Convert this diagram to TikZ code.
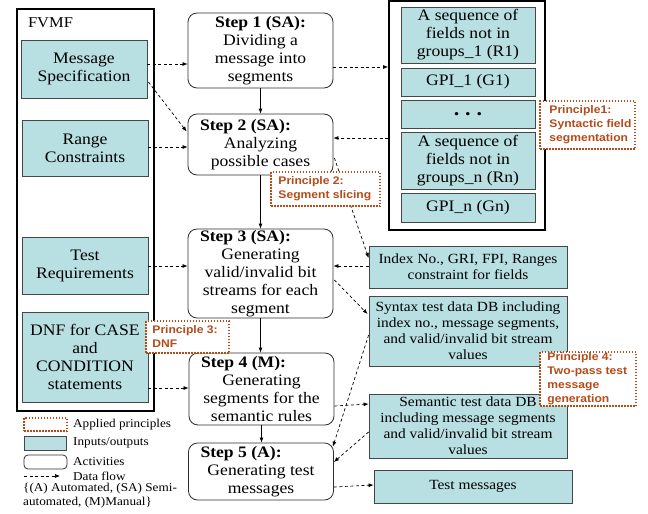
\documentclass[tikz,border=0pt]{standalone}
\usepackage{fontspec}
\setmainfont{Liberation Serif}[FakeStretch=1.1]
\newfontfamily\prinfam{Liberation Sans}[FakeStretch=1.1]
\usetikzlibrary{arrows.meta,calc}

\definecolor{iofill}{RGB}{184,223,225}
\definecolor{ioline}{RGB}{70,70,70}
\definecolor{stepline}{RGB}{45,45,45}
\definecolor{prin}{RGB}{180,75,25}

\newcommand\txtmain{\fontsize{16}{18}\selectfont}
\newcommand\txtsmall{\fontsize{14}{16}\selectfont}
\newcommand\txtleg{\fontsize{12}{13.5}\selectfont}
\newcommand\txtprin{\prinfam\bfseries\fontsize{11}{14}\selectfont}

\begin{document}
\begin{tikzpicture}[x=1pt,y=-1pt,
  io/.style={draw=ioline, fill=iofill, line width=0.8pt, inner sep=0pt, align=center, font=\txtmain},
  iosmall/.style={io, font=\txtsmall},
  stepbox/.style={draw=stepline, rounded corners=9pt, line width=0.8pt, minimum width=145pt,
                  inner xsep=4pt, inner ysep=0pt, align=center, font=\txtmain},
  container/.style={draw=black, line width=1.8pt, inner sep=0pt},
  prinbox/.style={draw=prin, fill=white, line width=1.5pt, dash pattern=on 1.5pt off 1.5pt, inner sep=0pt},
  printext/.style={text=prin, font=\txtprin, align=left, inner sep=0pt, anchor=west},
  dataflow/.style={draw=black, line width=0.7pt, dash pattern=on 3pt off 2.5pt, -{Latex[length=5pt,width=4pt]}},
  stepflow/.style={draw=black, line width=0.8pt, -{Latex[length=5pt,width=4pt]}},
  legtext/.style={font=\txtleg, anchor=west, inner sep=0pt}
]
\useasboundingbox (0,0) rectangle (648,514);

% ---------- FVMF inputs ----------
\node[container, minimum width=137pt, minimum height=402pt] (fvmf) at (85.5,210) {};
\node[font=\fontsize{15}{17}\selectfont, inner sep=0pt] (fvmft) at (50.5,23) {FVMF};
\node[io, minimum width=126pt, minimum height=58pt] (msg) at (84,69) {Message\\Specification};
\node[io, minimum width=126pt, minimum height=56pt] (rng) at (85,148) {Range\\Constraints};
\node[io, minimum width=126pt, minimum height=57pt] (treq) at (85,265.5) {Test\\Requirements};
\node[io, minimum width=126pt, minimum height=90pt] (dnf) at (85,357) {DNF for CASE\\and\\CONDITION\\statements};

% ---------- Steps ----------
\node[stepbox, minimum height=75pt] (s1) at (260.5,50.5)
  {\textbf{Step 1 (SA):}\\Dividing a\\message into\\segments};
\node[stepbox, minimum height=61pt] (s2) at (260.5,144.5)
  {\makebox[137pt][l]{\hspace{8pt}\textbf{Step 2 (SA):}}\\Analyzing\\possible cases};
\node[stepbox, minimum height=89pt] (s3) at (260.5,273.5)
  {\makebox[137pt][l]{\hspace{8pt}\textbf{Step 3 (SA):}}\\Generating\\valid/invalid bit\\streams for each\\segment};
\node[stepbox, minimum height=72pt] (s4) at (261.5,389)
  {\makebox[137pt][l]{\hspace{8pt}\textbf{Step 4 (M):}}\\Generating\\segments for the\\semantic rules};
\node[stepbox, minimum width=144pt, minimum height=57pt] (s5) at (261,471.5)
  {\makebox[137pt][l]{\hspace{8pt}\textbf{Step 5 (A):}}\\Generating test\\messages};

% ---------- Segments of a message ----------
\node[container, minimum width=156pt, minimum height=229pt] (rbox) at (467,115.5) {};
\node[io, minimum width=134pt, minimum height=56pt] (r1) at (468,35)
  {A sequence of\\fields not in\\groups\_1 (R1)};
\node[io, minimum width=134pt, minimum height=28pt] (g1) at (468,82) {GPI\_1 (G1)};
\node[io, minimum width=134pt, minimum height=28pt] (gdots) at (468,114)
  {\fontsize{20}{20}\selectfont\textbf{.\hspace{6pt}.\hspace{6pt}.}};
\node[io, minimum width=134pt, minimum height=57pt] (rn) at (468,160.5)
  {A sequence of\\fields not in\\groups\_n (Rn)};
\node[io, minimum width=134pt, minimum height=29pt] (gn) at (468,207.5) {GPI\_n (Gn)};

% ---------- Outputs ----------
\node[iosmall, minimum width=198pt, minimum height=42pt] (idx) at (468,267)
  {Index No., GRI, FPI, Ranges\\constraint for fields};
\node[iosmall, minimum width=198pt, minimum height=70pt] (syn) at (468,331)
  {Syntax test data DB including\\index no., message segments,\\and valid/invalid bit stream\\values};
\node[iosmall, minimum width=198pt, minimum height=64pt] (sem) at (468,426)
  {Semantic test data DB\\including message segments\\and valid/invalid bit stream\\values};
\node[iosmall, minimum width=198pt, minimum height=33pt] (tm) at (473,486.5) {Test messages};

% ---------- Step sequence ----------
\draw[stepflow] (s1.south) -- (s2.north);
\draw[stepflow] (s2.south) -- (s3.north);
\draw[stepflow] (s3.south) -- (s3.south |- s4.north);
\draw[stepflow] (s4.south) -- (s4.south |- s5.north);

% ---------- Data flows ----------
\draw[dataflow] ($(msg.east)+(0,-5)$) -- ($(s1.west)+(0,13.5)$);
\draw[dataflow] ($(msg.east)+(1,13)$) -- ($(s2.west)+(-1,-13)$);
\draw[dataflow] ($(rng.east)+(0,-1)$) -- ($(s2.west)+(0,2.5)$);
\draw[dataflow] ($(s1.east)+(0,16.5)$) -- ($(rbox.west)+(0,-48.5)$);
\draw[dataflow] ($(rbox.west)+(0,22.5)$) -- ($(s2.east)+(0,-6.5)$);
\draw[dataflow] ($(s2.east)+(1,13.5)$) -- ($(idx.west)+(0,-9)$);
\draw[dataflow] ($(treq.east)+(0,0.5)$) -- ($(s3.west)+(0,-7.5)$);
\draw[dataflow] ($(idx.west)+(0,-1)$) -- ($(s3.east)+(0,-7.5)$);
\draw[dataflow] ($(s3.east)+(1,6.5)$) -- ($(syn.west)+(-1,-17)$);
\draw[dataflow] ($(dnf.east)+(0,31)$) -- ($(s4.west)+(0,-1)$);
\draw[dataflow] ($(s4.east)+(0,17)$) -- ($(sem.west)+(0,-22)$);
\draw[dataflow] ($(syn.west)+(0,4)$) -- ($(s5.north east)+(-1,4)$);
\draw[dataflow] ($(sem.west)+(0,6)$) -- ($(s5.east)+(0,-9.5)$);
\draw[dataflow] ($(s5.east)+(0,15.5)$) -- ($(tm.west)+(0,-1.5)$);

% ---------- Applied principles ----------
\node[prinbox, minimum width=95pt, minimum height=48pt] (p1) at (587.5,125) {};
\node[printext] (p1t) at ($(p1.west)+(10,0)$) {Principle1:\\Syntactic field\\segmentation};
\node[prinbox, minimum width=109pt, minimum height=34pt] (p2) at (325.5,189) {};
\node[printext] (p2t) at ($(p2.west)+(8,0)$) {Principle 2:\\Segment slicing};
\node[prinbox, minimum width=83pt, minimum height=32pt] (p3) at (187.5,337) {};
\node[printext] (p3t) at ($(p3.west)+(7,0)$) {Principle 3:\\DNF};
\node[prinbox, minimum width=96pt, minimum height=54pt] (p4) at (588,379) {};
\node[printext] (p4t) at ($(p4.west)+(8,0)$) {Principle 4:\\Two-pass test\\message\\generation};

% ---------- Legend ----------
\node[prinbox, minimum width=43pt, minimum height=13pt] (lgp) at (45.5,424.5) {};
\node[legtext] (lgpt) at (73,425) {Applied principles};
\node[io, minimum width=42pt, minimum height=14pt] (lgi) at (45,443) {};
\node[legtext] (lgit) at (73,443) {Inputs/outputs};
\node[draw=stepline, rounded corners=4pt, line width=0.8pt, minimum width=43pt, minimum height=14pt, inner sep=0pt] (lga) at (45.5,462) {};
\node[legtext] (lgat) at (73,461.5) {Activities};
\coordinate (lgf1) at (24,476);
\coordinate (lgf2) at (60,476);
\draw[dataflow] (lgf1) -- (lgf2);
\node[legtext] (lgft) at (73,476) {Data flow};
\node[legtext, align=left, anchor=north west] (lgk) at (23,483)
  {\{(A) Automated, (SA) Semi-\\automated, (M)Manual\}};
\end{tikzpicture}
\end{document}
